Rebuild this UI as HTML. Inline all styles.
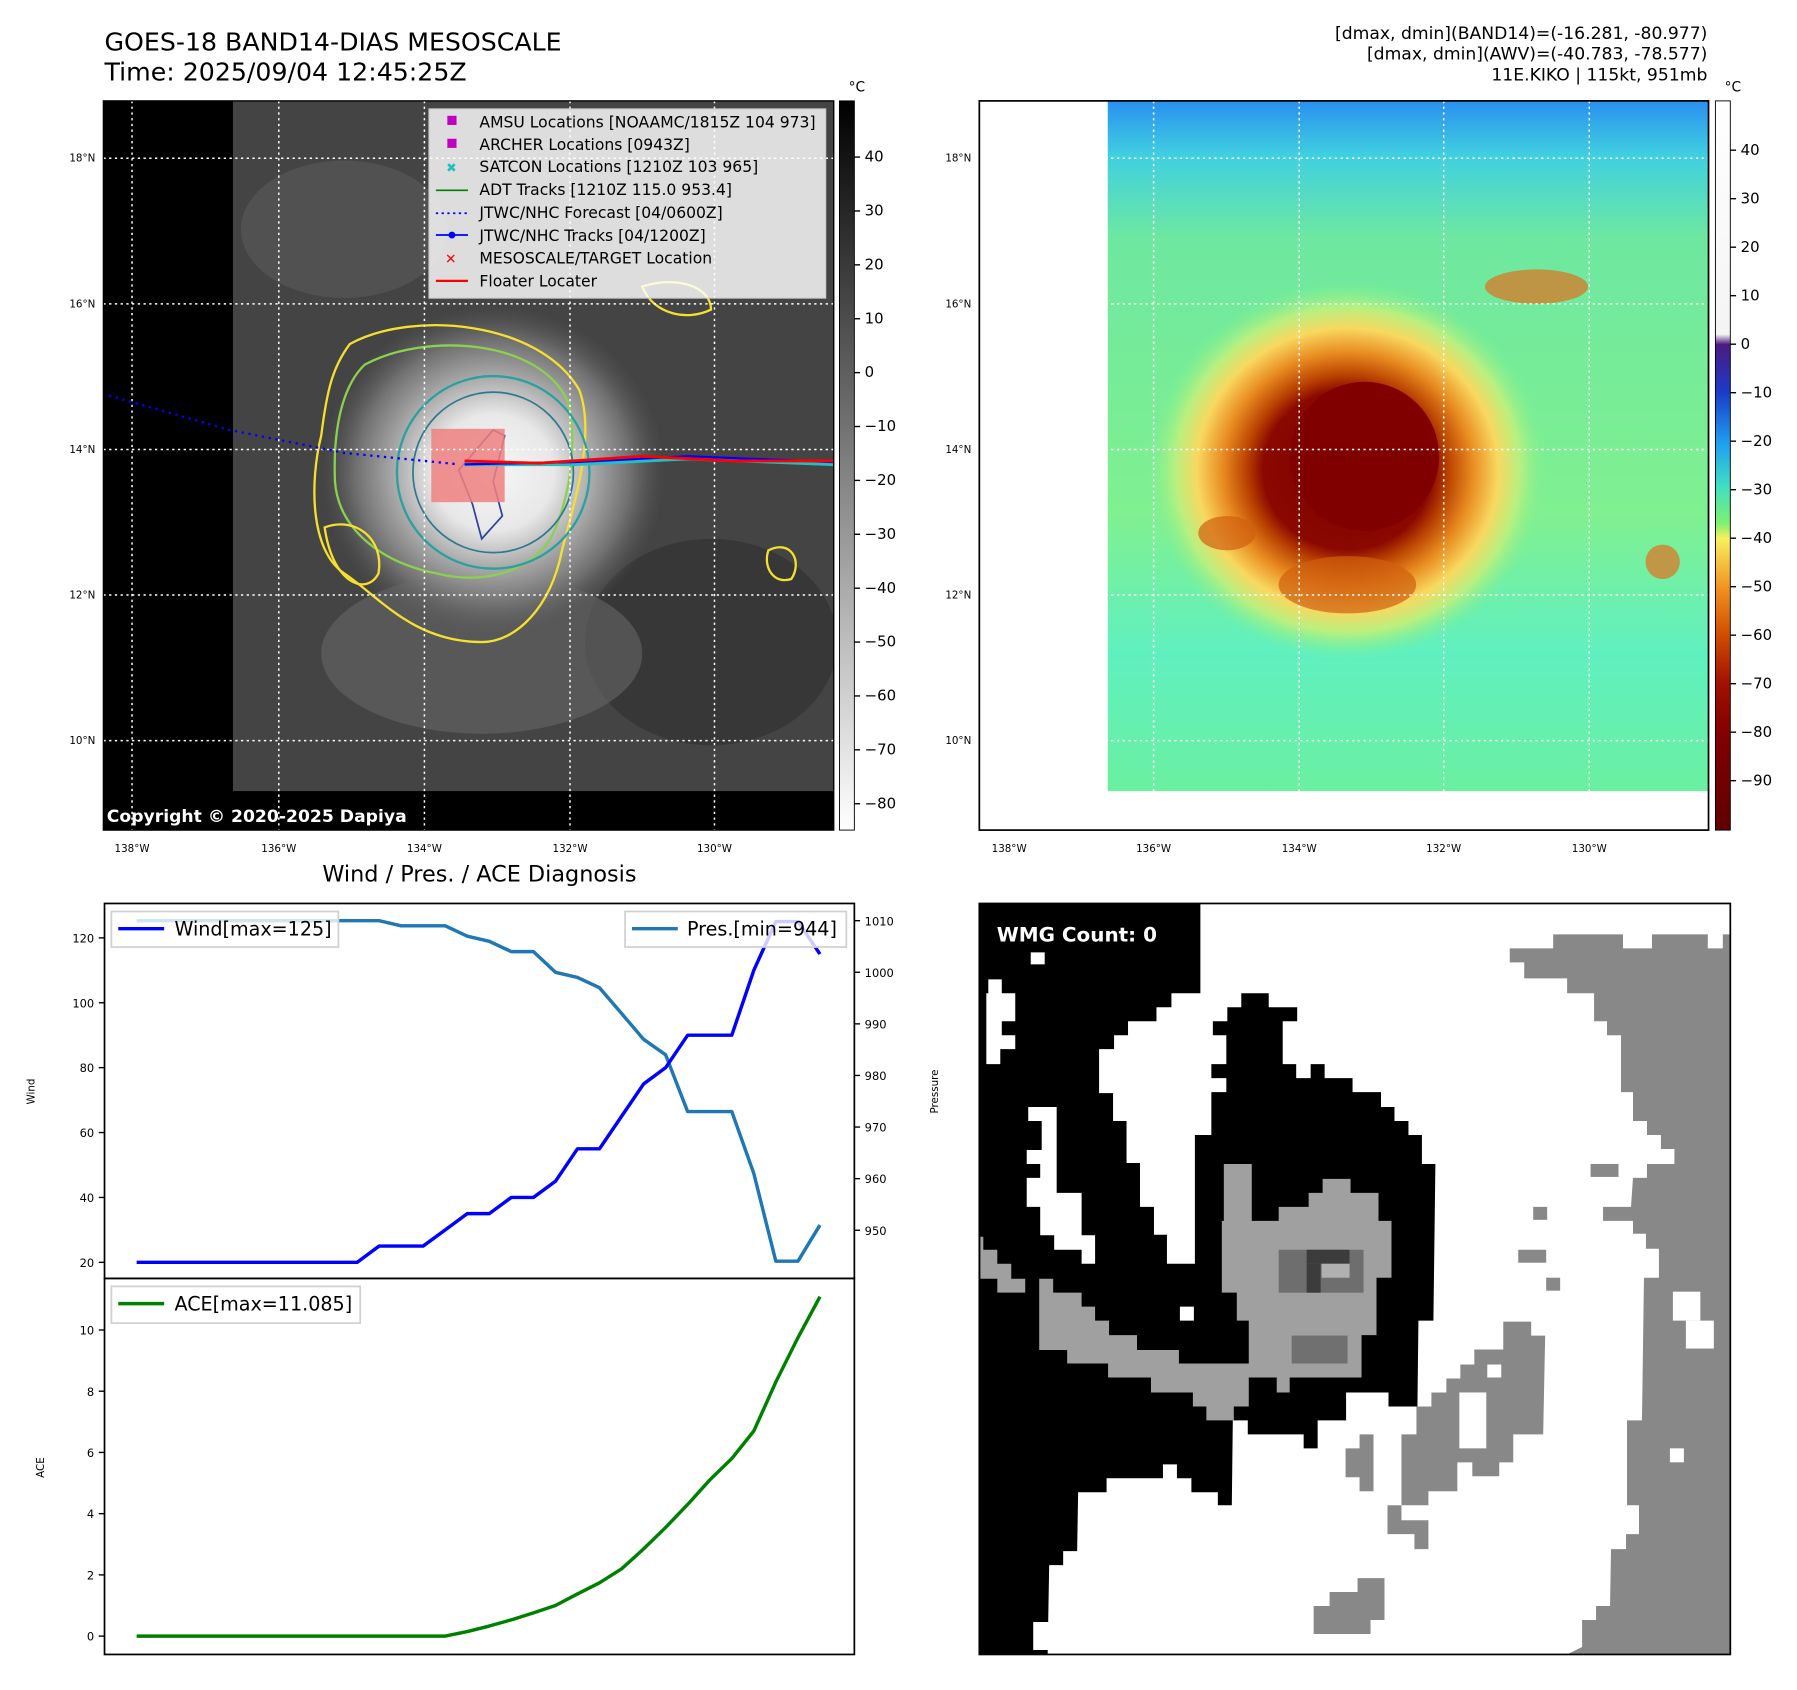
<!DOCTYPE html>
<html><head><meta charset="utf-8"><style>
html,body{margin:0;padding:0;background:#fff;}
svg{display:block;font-family:"DejaVu Sans","Liberation Sans",sans-serif;}
</style></head><body>
<svg id="root" width="1797" height="1690" viewBox="0 0 1567 1474" xmlns="http://www.w3.org/2000/svg">
<defs>
<radialGradient id="storm" cx="0.5" cy="0.5" r="0.5">
<stop offset="0" stop-color="#f6f6f6"/><stop offset="0.35" stop-color="#e8e8e8"/><stop offset="0.55" stop-color="#b0b0b0"/><stop offset="0.8" stop-color="#707070"/><stop offset="1" stop-color="#555" stop-opacity="0"/>
</radialGradient>
<radialGradient id="stormc" cx="0.5" cy="0.5" r="0.5">
<stop offset="0" stop-color="#7a0000"/><stop offset="0.42" stop-color="#8a0800"/><stop offset="0.5" stop-color="#b84000"/><stop offset="0.62" stop-color="#e88a20"/><stop offset="0.75" stop-color="#f8d860"/><stop offset="0.86" stop-color="#b8f080"/><stop offset="1" stop-color="#7af090" stop-opacity="0"/>
</radialGradient>
<linearGradient id="rbg" x1="0" y1="0" x2="0" y2="1">
<stop offset="0" stop-color="#2a90f0"/><stop offset="0.08" stop-color="#40d0e0"/><stop offset="0.2" stop-color="#6ee8a0"/><stop offset="0.6" stop-color="#80f090"/><stop offset="0.8" stop-color="#60f0c0"/><stop offset="1" stop-color="#6af0a0"/>
</linearGradient>
<linearGradient id="cb1" x1="0" y1="0" x2="0" y2="1"><stop offset="0" stop-color="#000"/><stop offset="1" stop-color="#fff"/></linearGradient>
<linearGradient id="cb2" x1="0" y1="0" x2="0" y2="1">
<stop offset="0" stop-color="#fff"/><stop offset="0.32" stop-color="#f4f4f4"/><stop offset="0.334" stop-color="#4b1a80"/><stop offset="0.4" stop-color="#1a3cc8"/><stop offset="0.47" stop-color="#1ea0f0"/><stop offset="0.53" stop-color="#40e0c0"/><stop offset="0.58" stop-color="#80f070"/><stop offset="0.6" stop-color="#f8f060"/><stop offset="0.67" stop-color="#f09020"/><stop offset="0.73" stop-color="#d05000"/><stop offset="0.8" stop-color="#a01000"/><stop offset="0.87" stop-color="#800000"/><stop offset="1" stop-color="#600000"/>
</linearGradient>
<clipPath id="clipL"><rect x="90" y="88" width="637" height="636"/></clipPath>
<clipPath id="clipR"><rect x="854" y="88" width="636" height="636"/></clipPath>
</defs>

<!-- Titles -->
<text x="91" y="44" font-size="22">GOES-18 BAND14-DIAS MESOSCALE</text>
<text x="91" y="70" font-size="22">Time: 2025/09/04 12:45:25Z</text>
<g font-size="15" text-anchor="end">
<text x="1489" y="34">[dmax, dmin](BAND14)=(-16.281, -80.977)</text>
<text x="1489" y="52">[dmax, dmin](AWV)=(-40.783, -78.577)</text>
<text x="1489" y="70">11E.KIKO | 115kt, 951mb</text>
</g>

<!-- LEFT MAP -->
<g clip-path="url(#clipL)">
<rect x="90" y="88" width="637" height="636" fill="#000"/>
<rect x="203" y="88" width="524" height="602" fill="#444"/>
<ellipse cx="300" cy="200" rx="90" ry="60" fill="#5a5a5a" opacity="0.6"/>
<ellipse cx="620" cy="560" rx="110" ry="90" fill="#2e2e2e" opacity="0.6"/>
<ellipse cx="420" cy="570" rx="140" ry="70" fill="#666" opacity="0.6"/>
<ellipse cx="430" cy="412" rx="150" ry="145" fill="url(#storm)"/>
<path d="M305,300 C360,270 470,280 505,340 C520,380 500,440 490,480 C480,530 450,560 420,560 C360,560 330,520 300,500 C270,480 270,420 280,380 C285,340 290,320 305,300Z" fill="none" stroke="#f5e030" stroke-width="2"/>
<path d="M318,318 C370,290 470,295 495,350 C505,390 495,440 480,470 C460,500 420,510 380,500 C330,490 295,460 292,420 C290,370 300,335 318,318Z" fill="none" stroke="#8cd050" stroke-width="2"/>
<circle cx="430" cy="412" r="84" fill="none" stroke="#2aa0a0" stroke-width="2"/>
<circle cx="430" cy="412" r="70" fill="none" stroke="#307890" stroke-width="1.5"/>
<path d="M430,375 L440,380 L430,420 L438,450 L420,470 L412,440 L400,410Z" fill="none" stroke="#3040a0" stroke-width="1.5"/>
<path d="M283,460 C310,450 335,470 330,500 C320,520 290,510 283,460Z" fill="none" stroke="#f5e030" stroke-width="2"/>
<path d="M560,250 C590,240 620,250 620,270 C600,280 570,275 560,250Z" fill="none" stroke="#f5e030" stroke-width="2"/>
<path d="M670,480 C690,470 700,490 690,505 C675,510 665,495 670,480Z" fill="none" stroke="#f5e030" stroke-width="2"/>
<rect x="376" y="374" width="64" height="64" fill="#f08080" opacity="0.85"/>
<g stroke="#fff" stroke-dasharray="2,3" stroke-width="1.3">
<line x1="90" y1="138" x2="727" y2="138"/><line x1="90" y1="265" x2="727" y2="265"/><line x1="90" y1="392" x2="727" y2="392"/><line x1="90" y1="519" x2="727" y2="519"/><line x1="90" y1="646" x2="727" y2="646"/>
<line x1="115" y1="88" x2="115" y2="724"/><line x1="243" y1="88" x2="243" y2="724"/><line x1="370" y1="88" x2="370" y2="724"/><line x1="497" y1="88" x2="497" y2="724"/><line x1="623" y1="88" x2="623" y2="724"/>
</g>
<polyline points="95,345 200,375 300,395 400,405" fill="none" stroke="#0000ff" stroke-width="2" stroke-dasharray="2,4"/>
<polyline points="405,405 500,405 600,400 727,405" fill="none" stroke="#20c0c0" stroke-width="3"/>
<polyline points="405,405 500,403 600,398 727,403" fill="none" stroke="#0000ff" stroke-width="2"/>
<polyline points="405,402 470,404 560,398 640,402 727,402" fill="none" stroke="#ff0000" stroke-width="2.5"/>
<text x="93" y="717" font-size="15" font-weight="bold" fill="#fff">Copyright © 2020-2025 Dapiya</text>
</g>
<rect x="90" y="88" width="637" height="636" fill="none" stroke="#000" stroke-width="1.2"/>
<g font-size="13.6">
<rect x="374" y="95" width="346" height="165" fill="#fff" fill-opacity="0.82" stroke="#ccc"/>
<rect x="390" y="101" width="8" height="8" fill="#c000c0"/><text x="418" y="111">AMSU Locations [NOAAMC/1815Z 104 973]</text>
<rect x="390" y="121" width="8" height="8" fill="#c000c0"/><text x="418" y="131">ARCHER Locations [0943Z]</text>
<text x="389" y="150" fill="#20c0c0" font-size="11">✖</text><text x="418" y="150">SATCON Locations [1210Z 103 965]</text>
<line x1="380" y1="166" x2="408" y2="166" stroke="#008000" stroke-width="1.5"/><text x="418" y="170">ADT Tracks [1210Z 115.0 953.4]</text>
<line x1="380" y1="186" x2="408" y2="186" stroke="#0000ff" stroke-width="1.5" stroke-dasharray="2,3"/><text x="418" y="190">JTWC/NHC Forecast [04/0600Z]</text>
<line x1="380" y1="205" x2="408" y2="205" stroke="#0000ff" stroke-width="1.5"/><circle cx="394" cy="205" r="3" fill="#0000ff"/><text x="418" y="210">JTWC/NHC Tracks [04/1200Z]</text>
<text x="388" y="230" fill="#ff0000" font-size="12" font-weight="bold">✕</text><text x="418" y="230">MESOSCALE/TARGET Location</text>
<line x1="380" y1="245" x2="408" y2="245" stroke="#ff0000" stroke-width="2"/><text x="418" y="250">Floater Locater</text>
</g>
<g font-size="9" text-anchor="end">
<text x="83" y="141">18°N</text><text x="83" y="268">16°N</text><text x="83" y="395">14°N</text><text x="83" y="522">12°N</text><text x="83" y="649">10°N</text>
</g>
<g font-size="9" text-anchor="middle">
<text x="115" y="743">138°W</text><text x="243" y="743">136°W</text><text x="370" y="743">134°W</text><text x="497" y="743">132°W</text><text x="623" y="743">130°W</text>
</g>
<rect x="732" y="88" width="13" height="636" fill="url(#cb1)" stroke="#000" stroke-width="0.8"/>
<text x="740" y="80" font-size="12">°C</text>
<g id="cb1ticks" font-size="13"></g>

<!-- RIGHT MAP -->
<g clip-path="url(#clipR)">
<rect x="854" y="88" width="636" height="636" fill="#fff"/>
<rect x="966" y="88" width="524" height="602" fill="url(#rbg)"/>
<ellipse cx="1175" cy="410" rx="175" ry="165" fill="url(#stormc)"/>
<circle cx="1190" cy="398" r="65" fill="#800000"/>
<ellipse cx="1175" cy="510" rx="60" ry="25" fill="#d06010" opacity="0.7"/>
<ellipse cx="1070" cy="465" rx="25" ry="15" fill="#d06010" opacity="0.7"/>
<ellipse cx="1340" cy="250" rx="45" ry="15" fill="#e07020" opacity="0.7"/>
<ellipse cx="1450" cy="490" rx="15" ry="15" fill="#e07020" opacity="0.7"/>
<g stroke="#fff" stroke-dasharray="2,3" stroke-width="1.3">
<line x1="854" y1="138" x2="1490" y2="138"/><line x1="854" y1="265" x2="1490" y2="265"/><line x1="854" y1="392" x2="1490" y2="392"/><line x1="854" y1="519" x2="1490" y2="519"/><line x1="854" y1="646" x2="1490" y2="646"/>
<line x1="880" y1="88" x2="880" y2="724"/><line x1="1006" y1="88" x2="1006" y2="724"/><line x1="1133" y1="88" x2="1133" y2="724"/><line x1="1259" y1="88" x2="1259" y2="724"/><line x1="1386" y1="88" x2="1386" y2="724"/>
</g>
</g>
<rect x="854" y="88" width="636" height="636" fill="none" stroke="#000" stroke-width="1.5"/>
<g font-size="9" text-anchor="end">
<text x="847" y="141">18°N</text><text x="847" y="268">16°N</text><text x="847" y="395">14°N</text><text x="847" y="522">12°N</text><text x="847" y="649">10°N</text>
</g>
<g font-size="9" text-anchor="middle">
<text x="880" y="743">138°W</text><text x="1006" y="743">136°W</text><text x="1133" y="743">134°W</text><text x="1259" y="743">132°W</text><text x="1386" y="743">130°W</text>
</g>
<rect x="1496" y="88" width="13" height="636" fill="url(#cb2)" stroke="#000" stroke-width="0.8"/>
<text x="1504" y="80" font-size="12">°C</text>
<g id="cb2ticks" font-size="13"></g>

<!-- DIAGNOSIS CHART -->
<text x="418" y="769" font-size="19.5" text-anchor="middle">Wind / Pres. / ACE Diagnosis</text>
<g id="chart"></g>
<rect x="91" y="788" width="654" height="327" fill="none" stroke="#000" stroke-width="1.5"/>
<rect x="91" y="1115" width="654" height="328" fill="none" stroke="#000" stroke-width="1.5"/>
<text transform="translate(30,952) rotate(-90)" font-size="9" text-anchor="middle">Wind</text>
<text transform="translate(818,952) rotate(-90)" font-size="9" text-anchor="middle">Pressure</text>
<text transform="translate(38,1280) rotate(-90)" font-size="9" text-anchor="middle">ACE</text>
<g font-size="16.7">
<rect x="97" y="795" width="198" height="31" fill="#fff" fill-opacity="0.8" stroke="#d0d0d0" stroke-width="1.5"/>
<line x1="103" y1="810" x2="143" y2="810" stroke="#0000ff" stroke-width="3"/><text x="152" y="816">Wind[max=125]</text>
</g>
<g font-size="16.7">
<rect x="545" y="795" width="193" height="31" fill="#fff" fill-opacity="0.8" stroke="#d0d0d0" stroke-width="1.5"/>
<line x1="551" y1="810" x2="591" y2="810" stroke="#1f77b4" stroke-width="3"/><text x="599" y="816">Pres.[min=944]</text>
</g>
<g font-size="16.7">
<rect x="97" y="1122" width="217" height="32" fill="#fff" fill-opacity="0.8" stroke="#d0d0d0" stroke-width="1.5"/>
<line x1="103" y1="1137" x2="143" y2="1137" stroke="#008000" stroke-width="3"/><text x="152" y="1143">ACE[max=11.085]</text>
</g>

<!-- WMG PANEL -->
<g>
<g transform="translate(854,788) scale(0.4352)">
<rect x="0" y="0" width="1505" height="1505" fill="#fff"/>
<path fill="#888" d="M1063,90 L1150,90 L1150,62 L1290,62 L1290,90 L1348,90 L1348,62 L1460,62 L1460,90 L1490,90 L1490,62 L1505,62 L1505,1505 L1178,1505 L1208,1490 L1208,1436 L1236,1436 L1236,1408 L1264,1408 L1266,1294 L1296,1294 L1296,1264 L1322,1264 L1322,1206 L1298,1206 L1298,1036 L1328,1036 L1332,750 L1362,750 L1362,692 L1336,692 L1336,662 L1310,662 L1310,636 L1250,636 L1250,608 L1306,608 L1310,550 L1338,550 L1338,522 L1393,522 L1393,492 L1366,492 L1366,464 L1338,464 L1338,436 L1310,436 L1310,378 L1286,378 L1286,264 L1258,264 L1258,236 L1232,236 L1232,180 L1178,180 L1178,150 L1092,150 L1092,118 L1063,118Z"/>
<rect x="1390" y="778" width="55" height="58" fill="#fff"/><rect x="1416" y="836" width="56" height="56" fill="#fff"/><rect x="1384" y="1092" width="28" height="28" fill="#fff"/>
<rect x="1225" y="522" width="56" height="26" fill="#888"/><rect x="1110" y="608" width="28" height="26" fill="#888"/><rect x="1080" y="694" width="56" height="26" fill="#888"/><rect x="1136" y="750" width="28" height="26" fill="#888"/>
<path fill="#888" d="M876,1008 L906,1008 L906,980 L936,980 L936,952 L964,952 L964,924 L992,924 L992,894 L1050,894 L1050,838 L1106,838 L1106,866 L1134,866 L1130,1064 L1070,1064 L1070,1120 L1042,1120 L1042,1148 L988,1148 L988,1120 L958,1120 L958,1178 L900,1178 L900,1206 L846,1206 L846,1064 L876,1064Z"/>
<rect x="962" y="980" width="54" height="112" fill="#fff"/><rect x="1018" y="924" width="28" height="26" fill="#fff"/>
<path fill="#888" d="M734,1092 L762,1092 L762,1064 L790,1064 L790,1178 L762,1178 L762,1150 L734,1150Z M818,1206 L846,1206 L846,1236 L900,1236 L900,1294 L872,1294 L872,1264 L818,1264Z M670,1408 L702,1408 L702,1380 L758,1380 L758,1352 L812,1352 L812,1436 L784,1436 L784,1464 L670,1464Z"/>
<path fill="#000" d="M0,0 L443,0 L443,180 L385,180 L385,208 L355,208 L355,236 L298,236 L298,264 L270,264 L270,292 L240,292 L240,380 L268,380 L268,436 L295,436 L295,520 L322,520 L322,608 L350,608 L350,664 L376,664 L376,722 L432,722 L432,464 L465,464 L465,378 L495,378 L495,350 L465,350 L465,322 L495,322 L495,264 L468,264 L468,236 L497,236 L497,208 L525,208 L525,180 L580,180 L580,208 L637,208 L637,236 L608,236 L608,322 L635,322 L635,350 L664,350 L664,322 L692,322 L692,350 L748,350 L748,378 L805,378 L805,408 L832,408 L832,436 L860,436 L860,464 L887,464 L887,522 L914,522 L910,836 L880,836 L878,1008 L820,1008 L820,980 L735,980 L735,1036 L678,1036 L678,1092 L650,1092 L650,1064 L538,1064 L538,1036 L508,1036 L506,1206 L478,1206 L478,1180 L425,1180 L425,1152 L396,1152 L396,1124 L368,1124 L368,1152 L255,1152 L255,1180 L198,1180 L196,1298 L168,1298 L168,1326 L140,1326 L138,1440 L108,1440 L108,1496 L137,1496 L137,1505 L0,1505Z"/>
<rect x="103" y="98" width="28" height="24" fill="#fff"/>
<path fill="#fff" d="M18,152 L45,152 L45,180 L72,180 L72,236 L45,236 L45,264 L72,264 L72,292 L42,292 L42,322 L14,322 L14,180 L18,180Z M98,408 L155,408 L155,580 L205,580 L205,665 L232,665 L232,722 L205,722 L205,694 L150,694 L150,665 L122,665 L122,608 L95,608 L95,550 L122,550 L122,522 L95,522 L95,494 L125,494 L125,436 L98,436Z M402,808 L430,808 L430,836 L402,836Z"/>
<path fill="#a0a0a0" d="M490,522 L546,522 L546,636 L600,636 L600,608 L660,608 L660,580 L688,580 L688,552 L744,552 L744,580 L800,580 L800,636 L826,636 L826,750 L796,750 L796,865 L766,865 L766,950 L622,950 L622,980 L596,980 L596,950 L540,950 L540,1008 L510,1008 L510,1036 L455,1036 L455,1008 L428,1008 L428,980 L344,980 L344,950 L258,950 L258,922 L176,922 L176,895 L120,895 L120,752 L148,752 L148,780 L205,780 L205,808 L232,808 L232,836 L260,836 L260,865 L316,865 L316,895 L400,895 L400,922 L540,922 L540,836 L516,836 L516,780 L486,780 L486,636 L490,636Z M2,668 L8,668 L8,694 L36,694 L36,722 L64,722 L64,752 L92,752 L92,780 L36,780 L36,752 L2,752Z"/>
<rect x="600" y="694" width="170" height="86" fill="#6e6e6e"/>
<rect x="656" y="694" width="86" height="28" fill="#3c3c3c"/><rect x="656" y="722" width="28" height="58" fill="#3c3c3c"/><rect x="686" y="722" width="56" height="28" fill="#b0b0b0"/>
<rect x="626" y="866" width="112" height="56" fill="#707070"/>
<text x="35" y="76" font-size="40" font-weight="bold" fill="#fff">WMG Count: 0</text>
</g>
<rect x="854" y="788" width="655" height="655" fill="none" stroke="#000" stroke-width="1.5"/>
</g>
</svg>
<script>
// ---- Diagnosis chart data ----
const windValues = [20,20,20,20,20,20,20,20,20,20,20,25,25,25,30,35,35,40,40,45,55,55,65,75,80,90,90,90,110,125,125,115];
const presValues = [1010,1010,1010,1010,1010,1010,1010,1010,1010,1010,1010,1010,1009,1009,1009,1007,1006,1004,1004,1000,999,997,992,987,984,973,973,973,961,944,944,951];
const aceValues = [0,0,0,0,0,0,0,0,0,0,0,0,0,0,0,0.15,0.33,0.53,0.76,1.0,1.38,1.74,2.2,2.85,3.55,4.3,5.1,5.8,6.7,8.3,9.75,11.085];
const windTicks = [20,40,60,80,100,120];
const presTicks = [950,960,970,980,990,1000,1010];
const aceTicks = [0,2,4,6,8,10];
const cbIrTicks = [40,30,20,10,0,-10,-20,-30,-40,-50,-60,-70,-80];
const cbAwvTicks = [40,30,20,10,0,-10,-20,-30,-40,-50,-60,-70,-80,-90];

const NS = 'http://www.w3.org/2000/svg';
function xS(i){ return 119 + i * (596 / (windValues.length - 1)); }
function yWind(v){ return 1101 - (v - 20) * 2.83; }
function yPres(p){ return 1073 - (p - 950) * 4.5; }
function yAce(a){ return 1427 - a * 26.7; }
function yCb1(v){ return 137 + (40 - v) * 4.7; }
function yCb2(v){ return 131 + (40 - v) * 4.23; }

const chart = document.getElementById('chart');
function mk(tag, attrs, parent){
  const e = document.createElementNS(NS, tag);
  for (const k in attrs) e.setAttribute(k, attrs[k]);
  (parent || chart).appendChild(e);
  return e;
}
function line(vals, yf, color, name){
  const pts = vals.map((v,i) => xS(i).toFixed(1) + ',' + yf(v).toFixed(1)).join(' ');
  const p = mk('polyline', {points: pts, fill: 'none', stroke: color, 'stroke-width': 3, 'stroke-linejoin': 'round'});
  
  
}
function ticks(list, yf, x, side, g, fs){
  list.forEach(t => {
    const y = yf(t);
    const tk = mk('line', side === 'left' ? {x1: x-5, x2: x, y1: y, y2: y, stroke: '#000', 'stroke-width': 1.2} : {x1: x, x2: x+5, y1: y, y2: y, stroke: '#000', 'stroke-width': 1.2}, g);
    
    
    const tx = mk('text', {x: side === 'left' ? x-9 : x+9, y: y+4, 'font-size': fs, 'text-anchor': side === 'left' ? 'end' : 'start'}, g);
    tx.textContent = String(t).replace('-', '\u2212');
    
    
  });
}
line(presValues, yPres, '#1f77b4', 'pressure-line');
line(windValues, yWind, '#0000ff', 'wind-line');
line(aceValues, yAce, '#008000', 'ace-line');
ticks(windTicks, yWind, 91, 'left', chart, 10);
ticks(presTicks, yPres, 745, 'right', chart, 10);
ticks(aceTicks, yAce, 91, 'left', chart, 10);
ticks(cbIrTicks, yCb1, 745, 'right', document.getElementById('cb1ticks'), 13);
ticks(cbAwvTicks, yCb2, 1509, 'right', document.getElementById('cb2ticks'), 13);
</script>
</body></html>
